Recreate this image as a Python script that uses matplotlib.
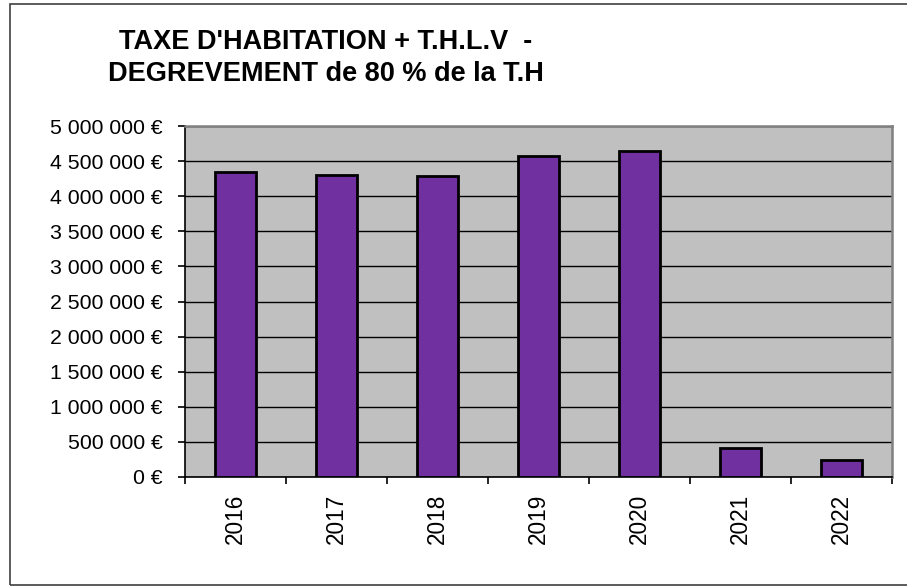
import matplotlib.pyplot as plt
from matplotlib.patches import Rectangle
from matplotlib.ticker import FuncFormatter, MultipleLocator

plt.rcParams['font.family'] = ['Liberation Sans', 'DejaVu Sans']

# Données (montants en euros)
annees = ['2016', '2017', '2018', '2019', '2020', '2021', '2022']
montants = [4340000, 4300000, 4285000, 4570000, 4640000, 417000, 238000]

titre = "TAXE D'HABITATION + T.H.L.V  -\nDEGREVEMENT de 80 % de la T.H"

fig = plt.figure(figsize=(9.07, 5.86), dpi=100)
W, H = 907, 586

# cadre du graphique
fig.patches.append(Rectangle((10 / W, 1 - 585 / H), 1.2, 581 / H, transform=fig.transFigure,
                             fill=False, edgecolor='#404040', linewidth=1.2))

ax = fig.add_axes([185 / W, 1 - 477 / H, (892 - 185) / W, (477 - 126) / H])
ax.set_facecolor('#C0C0C0')

x = range(len(annees))
ax.bar(x, montants, width=0.41, color='#7030A0', edgecolor='black', linewidth=2, zorder=3)

ax.set_xlim(-0.5, len(annees) - 0.5)
ax.set_ylim(0, 5000000)
ax.yaxis.set_major_locator(MultipleLocator(500000))
ax.yaxis.set_major_formatter(FuncFormatter(lambda v, p: '{:,}'.format(int(v)).replace(',', ' ') + ' €'))
ax.grid(axis='y', color='black', linewidth=1, zorder=1)

ax.set_xticks(list(x))
ax.set_xticklabels(annees, rotation=90)
ax.set_xticks([i - 0.5 for i in range(len(annees) + 1)], minor=True)
ax.tick_params(axis='x', which='major', length=0, pad=12, labelsize=16.3)
ax.tick_params(axis='x', which='minor', length=5, width=1.2, direction='out')
ax.tick_params(axis='y', length=5, width=1.2, pad=11, labelsize=15.3)

for s in ['top', 'right']:
    ax.spines[s].set_color('#808080')
    ax.spines[s].set_linewidth(1.8)
for s in ['left', 'bottom']:
    ax.spines[s].set_color('black')
    ax.spines[s].set_linewidth(1.2)

fig.text(326 / W, 1 - 58 / H, titre, ha='center', va='center', fontsize=19.5,
         fontweight='bold', linespacing=1.3)

fig.savefig('out.png', dpi=100)
